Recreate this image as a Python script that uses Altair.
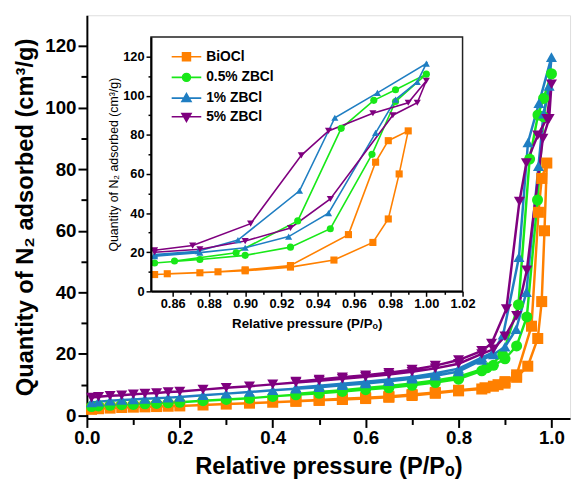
import altair as alt
import pandas as pd

FONT = "Liberation Sans"

series = ["BiOCl", "0.5% ZBCl", "1% ZBCl", "5% ZBCl"]
colors = ["#FF8000", "#18E818", "#1F7EC2", "#7F007F"]
shapes_main = ["square", "circle", "triangle-up", "triangle-down"]

# shared low-pressure adsorption points
low_p = [0.01, 0.025, 0.05, 0.075, 0.1, 0.125, 0.15, 0.175, 0.2, 0.25, 0.3, 0.35,
         0.4, 0.45, 0.5, 0.55, 0.6, 0.65, 0.7, 0.75, 0.8]

# BiOCl
bioc_ads_p = low_p + [0.85, 0.875, 0.90, 0.925, 0.949, 0.9705, 0.979, 0.985, 0.99]
bioc_ads_v = [2.0, 2.2, 2.4, 2.6, 2.7, 2.8, 2.9, 3.0, 3.1, 3.4, 3.7, 4.0, 4.3, 4.6, 4.9,
              5.2, 5.5, 5.9, 6.5, 7.2, 8.0, 8.6, 9.5, 10.5, 12.4, 16.0, 25.0, 37.0, 60.0, 82.0]
bioc_des_p = [0.979, 0.972, 0.957, 0.925, 0.90, 0.885, 0.857, 0.80, 0.75, 0.70, 0.65,
              0.60, 0.55, 0.50, 0.45]
bioc_des_v = [77.0, 66.0, 29.0, 13.2, 11.0, 10.0, 9.0, 8.2, 7.5, 6.8, 6.2, 5.8, 5.4, 5.0, 4.7]

# 0.5% ZBCl
g_ads_p = low_p + [0.85, 0.875, 0.90, 0.925, 0.947, 0.970, 0.983, 1.0]
g_ads_v = [2.9, 3.1, 3.3, 3.5, 3.6, 3.8, 3.9, 4.1, 4.3, 4.8, 5.2, 5.6, 6.2, 6.7, 7.2,
           7.8, 8.4, 9.0, 9.8, 10.7, 11.8, 14.5, 16.3, 18.4, 22.6, 32.0, 70.0, 97.0, 111.0]
g_des_p = [0.983, 0.971, 0.953, 0.929, 0.895, 0.861, 0.80, 0.75, 0.70, 0.65, 0.60,
           0.55, 0.50, 0.45]
g_des_v = [103.0, 97.6, 83.3, 36.0, 19.7, 15.5, 12.6, 11.4, 10.4, 9.6, 8.9, 8.2, 7.6, 7.0]

# 1% ZBCl
b_ads_p = low_p + [0.85, 0.875, 0.90, 0.924, 0.946, 0.972, 0.983, 0.995, 1.0]
b_ads_v = [4.2, 4.5, 4.8, 5.0, 5.2, 5.4, 5.6, 5.8, 6.0, 6.6, 7.1, 7.6, 8.2, 8.7, 9.2,
           9.8, 10.4, 11.1, 11.9, 12.9, 14.3, 18.0, 19.8, 22.3, 28.0, 40.0, 81.0, 98.0,
           107.0, 116.4]
b_des_p = [0.973, 0.9495, 0.930, 0.896, 0.874, 0.85, 0.80, 0.75, 0.70, 0.65, 0.60,
           0.55, 0.50, 0.45]
b_des_v = [101.4, 88.7, 51.4, 26.2, 20.5, 18.8, 15.2, 13.7, 12.5, 11.7, 11.0, 10.3, 9.7, 9.0]

# 5% ZBCl
p_ads_p = low_p + [0.85, 0.875, 0.90, 0.925, 0.947, 0.9815, 0.995, 1.0]
p_ads_v = [5.8, 6.1, 6.4, 6.6, 6.9, 7.1, 7.3, 7.6, 7.8, 8.4, 9.0, 9.5, 10.1, 10.7, 11.3,
           11.9, 12.6, 13.3, 14.2, 15.3, 16.8, 20.0, 21.5, 25.7, 32.4, 47.2, 90.0, 96.4, 107.6]
p_des_p = [0.990, 0.9705, 0.946, 0.931, 0.903, 0.871, 0.85, 0.80, 0.75, 0.70, 0.65,
           0.60, 0.55, 0.50, 0.45]
p_des_v = [96.4, 91.0, 82.0, 69.5, 34.6, 23.4, 21.0, 18.0, 16.2, 14.9, 13.9, 13.1,
           12.4, 11.7, 11.0]

all_series = [
    (series[0], bioc_ads_p, bioc_ads_v, bioc_des_p, bioc_des_v),
    (series[1], g_ads_p, g_ads_v, g_des_p, g_des_v),
    (series[2], b_ads_p, b_ads_v, b_des_p, b_des_v),
    (series[3], p_ads_p, p_ads_v, p_des_p, p_des_v),
]
rows = []
for name, ap, av, dp, dv in all_series:
    for k, (p, v) in enumerate(zip(ap + dp, av + dv)):
        rows.append({"series": name, "p": p, "v": v, "k": k})
df = pd.DataFrame(rows)

W, H = 490, 409
X_MAIN = [0, 1.04]
Y_MAIN = [-1, 130]
X_IN = [0.848, 1.02]
Y_IN = [0, 130]
XR_IN = [65, 381]
YR_IN = [280, 22]

common_ax = dict(grid=False, domainColor="black", tickColor="black", labelColor="black",
                 titleColor="black", labelFont=FONT, titleFont=FONT, labelFlush=False,
                 labelOverlap=False)

# ---------- main plot ----------
x_main_scale = alt.Scale(domain=X_MAIN, nice=False, zero=False)
y_main_scale = alt.Scale(domain=Y_MAIN, nice=False, zero=False)
x_main_axis = alt.Axis(orient="bottom", values=[0, 0.2, 0.4, 0.6, 0.8, 1.0], format=".1f",
                       title="Relative pressure (P/Pₒ)", tickSize=9, tickWidth=2,
                       domainWidth=2, labelPadding=1, labelFontSize=19,
                       labelFontWeight="bold", titleFontSize=24, titleFontWeight="bold",
                       titleY=49, titleBaseline="middle", **common_ax)
y_main_axis = alt.Axis(orient="left", values=[0, 20, 40, 60, 80, 100, 120],
                       title="Quantity of N₂ adsorbed (cm³/g)", tickSize=9, tickWidth=2,
                       domainWidth=2, labelPadding=2, labelFontSize=19,
                       labelFontWeight="bold", titleFontSize=24, titleFontWeight="bold",
                       titleX=-62, titleBaseline="middle", **common_ax)

xm = alt.X("p:Q", scale=x_main_scale, axis=x_main_axis)
ym = alt.Y("v:Q", scale=y_main_scale, axis=y_main_axis)
col_nolegend = alt.Color("series:N", scale=alt.Scale(domain=series, range=colors), legend=None)
shp_nolegend = alt.Shape("series:N", scale=alt.Scale(domain=series, range=shapes_main), legend=None)

main = alt.layer(
    alt.Chart(df).mark_line(strokeWidth=2.5).encode(x=xm, y=ym, color=col_nolegend,
                                                    detail="series:N", order="k:Q"),
    alt.Chart(df).mark_point(filled=True, size=125, opacity=1).encode(
        x=xm, y=ym, color=col_nolegend, shape=shp_nolegend),
)

main_minor = alt.Chart(df.head(1)).mark_point(opacity=0).encode(
    x=alt.X("p:Q", scale=x_main_scale,
            axis=alt.Axis(orient="bottom", values=[0.1, 0.3, 0.5, 0.7, 0.9], labels=False,
                          domain=False, tickSize=6, tickWidth=2, title=None, **common_ax)),
    y=alt.Y("v:Q", scale=y_main_scale,
            axis=alt.Axis(orient="left", values=[10, 30, 50, 70, 90, 110], labels=False,
                          domain=False, tickSize=6, tickWidth=2, title=None, **common_ax)),
)

# ---------- inset ----------
x_in_scale = alt.Scale(domain=X_IN, range=XR_IN, nice=False, zero=False)
y_in_scale = alt.Scale(domain=Y_IN, range=YR_IN, nice=False, zero=False)
x_in_axis = alt.Axis(orient="bottom", offset=-129,
                     values=[0.86, 0.88, 0.90, 0.92, 0.94, 0.96, 0.98, 1.00, 1.02],
                     format=".2f", tickSize=5, tickWidth=1.5, domainWidth=2, labelPadding=1,
                     labelFontSize=13, labelFontWeight="bold",
                     title="Relative pressure (P/Pₒ)", titleFontSize=13.5,
                     titleFontWeight="bold", titleY=33, titleBaseline="middle",
                     zindex=2, **common_ax)
y_in_axis = alt.Axis(orient="left", offset=-65, values=[0, 20, 40, 60, 80, 100, 120],
                     tickSize=5, tickWidth=1.5, domainWidth=2, labelPadding=2,
                     labelFontSize=13, labelFontWeight="bold",
                     title="Quantity of N₂ adsorbed (cm³/g)", titleFontSize=12.5,
                     titleFontWeight=500, titleX=-38, titleBaseline="middle",
                     zindex=2, **common_ax)

frame_df = pd.DataFrame({"x0": [X_IN[0]], "x1": [X_IN[1]], "y0": [Y_IN[0]], "y1": [Y_IN[1]]})
frame = alt.Chart(frame_df).mark_rect(fill="white", stroke="#222222", strokeWidth=1.5).encode(
    x=alt.X("x0:Q", scale=x_in_scale, axis=x_in_axis), x2="x1:Q",
    y=alt.Y("y0:Q", scale=y_in_scale, axis=y_in_axis), y2="y1:Q")

xi = alt.X("p:Q", scale=x_in_scale, axis=x_in_axis)
yi = alt.Y("v:Q", scale=y_in_scale, axis=y_in_axis)
inset_df = alt.Chart(df).transform_filter("datum.p >= 0.849")
inset = alt.layer(
    frame,
    inset_df.mark_line(strokeWidth=1.6).encode(x=xi, y=yi, color=col_nolegend,
                                               detail="series:N", order="k:Q"),
    inset_df.mark_point(filled=True, size=52, opacity=1).encode(
        x=xi, y=yi, color=col_nolegend, shape=shp_nolegend),
)

inset_minor = alt.Chart(df.head(1)).mark_point(opacity=0).encode(
    x=alt.X("p:Q", scale=x_in_scale,
            axis=alt.Axis(orient="bottom", offset=-129,
                          values=[0.87, 0.89, 0.91, 0.93, 0.95, 0.97, 0.99, 1.01],
                          labels=False, domain=False, tickSize=3, tickWidth=1.5,
                          title=None, zindex=2, **common_ax)),
    y=alt.Y("v:Q", scale=y_in_scale,
            axis=alt.Axis(orient="left", offset=-65, values=[10, 30, 50, 70, 90, 110],
                          labels=False, domain=False, tickSize=3, tickWidth=1.5,
                          title=None, zindex=2, **common_ax)),
)

# ---------- legend (line + marker symbols) ----------
legend_paths = [
    "M-3.75,0H3.75M-1,-1H1V1H-1Z",
    "M-3.75,0H3.75M1,0A1,1 0 1,1 -1,0A1,1 0 1,1 1,0Z",
    "M-3.75,0H3.75M0,-1.15L1.15,0.85L-1.15,0.85Z",
    "M-3.75,0H3.75M0,1.15L1.15,-0.85L-1.15,-0.85Z",
]
leg = alt.Legend(orient="none", legendX=94, legendY=35, title=None, labelFont=FONT,
                 labelFontSize=14, labelFontWeight="bold", labelColor="black",
                 symbolSize=64, symbolStrokeWidth=1.6, symbolOpacity=1, labelOffset=13,
                 rowPadding=5, padding=0)
legend_layer = alt.Chart(df).transform_filter("datum.p > 100").mark_point(
    filled=True, size=64, opacity=1).encode(
    fill=alt.Fill("series:N", scale=alt.Scale(domain=series, range=colors), legend=leg),
    stroke=alt.Stroke("series:N", scale=alt.Scale(domain=series, range=colors), legend=leg),
    shape=alt.Shape("series:N", scale=alt.Scale(domain=series, range=legend_paths), legend=leg),
)

chart = alt.layer(main, main_minor, inset, inset_minor, legend_layer).resolve_scale(
    x="independent", y="independent", color="independent", shape="independent",
    fill="independent", stroke="independent"
).properties(
    width=W, height=H,
    autosize=alt.AutoSizeParams(type="none"),
    padding={"left": 80, "top": 4, "right": 3, "bottom": 63},
).configure_view(
    stroke="#444444", strokeWidth=1.2
).configure_axis(
    labelFont=FONT, titleFont=FONT
).configure_legend(
    labelFont=FONT
).configure(background="white", font=FONT)

chart.save("out.html", embed_options={"renderer": "svg", "actions": False})
